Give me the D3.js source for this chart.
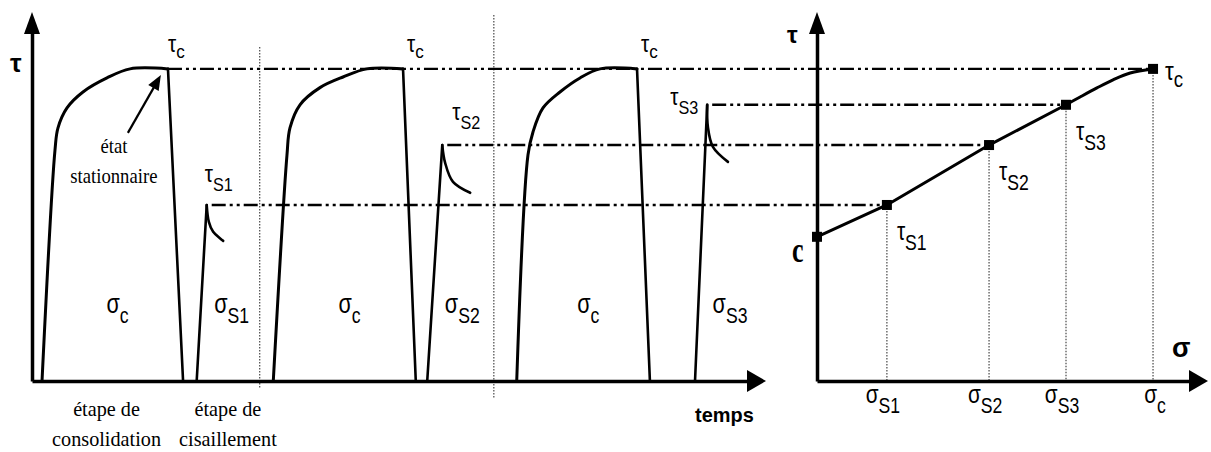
<!DOCTYPE html>
<html lang="fr">
<head>
<meta charset="UTF-8">
<title>Essai de cisaillement - consolidation / cisaillement</title>
<script src="https://cdn.jsdelivr.net/npm/d3@7"></script>
<style>
  body { margin: 0; background: #fff; }
</style>
</head>
<body>
<script>
// ---- data: time in arbitrary units, tau in % of tau_c, sigma in % of sigma_c
const tauC = 100;
const sigmaC = 100;
const cohesion = 46.2;
const tauS = [56.4, 75.6, 88.5];      // tau_S1 .. tau_S3
const sigmaS = [20.8, 51.2, 74.1];    // sigma_S1 .. sigma_S3
const stageSubs = ["S1", "S2", "S3"];

// consolidation stages: start of loading, then build-up and plateau, [t, tau]
const loadStart = [1.4, 33.7, 67.7];
const consolidationCurves = [
  [[3.21, 74.0], [3.63, 81.1], [4.89, 87.5], [7.12, 92.6], [10.47, 97.1], [13.69, 100], [18.99, 100]],
  [[35.61, 72.4], [36.03, 81.1], [37.43, 88.5], [40.22, 94.0], [43.44, 97.4], [46.79, 100], [51.82, 100]],
  [[69.27, 72.4], [69.97, 79.8], [71.37, 87.5], [73.74, 92.6], [76.54, 97.1], [79.33, 100], [84.50, 100]]
];
const unloadEnd = [21.1, 53.6, 86.3];

// shear stages
const shearStart = [23.0, 55.2, 92.6];
const shearPeakTime = [24.4, 57.3, 94.3];
const shearDecay = [
  [[24.7, 51.0], [25.3, 47.8], [26.7, 44.9]],
  [[57.7, 69.9], [58.8, 63.8], [61.2, 60.3]],
  [[94.4, 81.4], [95.1, 75.0], [97.2, 70.2]]
];
const stageDividers = [31.8, 64.5];

// envelope bend between tau_S3 and tau_c, [sigma, tau]
const envelopeBend = [[78.3, 91.0], [83.3, 93.9], [88.1, 96.5], [93.2, 98.7]];

const width = 1211, height = 452;
const SANS = "'Liberation Sans', Arial, Helvetica, sans-serif";
const SERIF = "'Liberation Serif', 'Times New Roman', Times, serif";

const svg = d3.select("body").append("svg")
  .attr("width", width)
  .attr("height", height);

const xTime = d3.scaleLinear().domain([0, 100]).range([32, 748]);
const xSigma = d3.scaleLinear().domain([0, 111]).range([817, 1190]);
const yTau = d3.scaleLinear().domain([0, 111.5]).range([381, 33]);

const dashDot = "14,4,3,4,3,4";
const dotted = "1.5,1.5";

// dotted stage dividers
const dividerTop = [47, 15];
svg.append("g").selectAll("line")
  .data(stageDividers)
  .join("line")
  .attr("x1", d => xTime(d)).attr("x2", d => xTime(d))
  .attr("y1", (d, i) => dividerTop[i])
  .attr("y2", (d, i) => yTau(0) + (i ? 17 : 7))
  .attr("stroke", "#555").attr("stroke-width", 1.3)
  .attr("stroke-dasharray", dotted);

// dotted verticals in right panel
const rightPoints = sigmaS.map((s, i) => [s, tauS[i]]).concat([[sigmaC, tauC]]);
svg.append("g").selectAll("line")
  .data(rightPoints)
  .join("line")
  .attr("x1", d => xSigma(d[0])).attr("x2", d => xSigma(d[0]))
  .attr("y1", d => yTau(d[1])).attr("y2", yTau(0))
  .attr("stroke", "#555").attr("stroke-width", 1.3)
  .attr("stroke-dasharray", dotted);

// dash-dot projection lines
const firstPlateau = consolidationCurves[0];
const projections = [{from: xTime(firstPlateau[firstPlateau.length - 1][0]), to: xSigma(sigmaC), tau: tauC}]
  .concat(tauS.map((t, i) => ({from: xTime(shearPeakTime[i]) + 5, to: xSigma(sigmaS[i]), tau: t})));
svg.append("g").selectAll("line")
  .data(projections)
  .join("line")
  .attr("x1", d => d.from).attr("x2", d => d.to)
  .attr("y1", d => yTau(d.tau)).attr("y2", d => yTau(d.tau))
  .attr("stroke", "#000").attr("stroke-width", 2.4)
  .attr("stroke-dasharray", dashDot);

// axes (no ticks)
function styleAxis(g) {
  g.select(".domain").attr("stroke-width", 3.5);
}
svg.append("g").attr("transform", `translate(0,${yTau(0)})`)
  .call(d3.axisBottom(xTime).tickValues([]).tickSizeOuter(0)).call(styleAxis);
svg.append("g").attr("transform", `translate(${xTime(0)},0)`)
  .call(d3.axisLeft(yTau).tickValues([]).tickSizeOuter(0)).call(styleAxis);
svg.append("g").attr("transform", `translate(0,${yTau(0)})`)
  .call(d3.axisBottom(xSigma).tickValues([]).tickSizeOuter(0)).call(styleAxis);
svg.append("g").attr("transform", `translate(${xSigma(0)},0)`)
  .call(d3.axisLeft(yTau).tickValues([]).tickSizeOuter(0)).call(styleAxis);

function arrowUp(x, y) { return `M${x - 8},${y}L${x},${y - 22}L${x + 8},${y}Z`; }
function arrowRight(x, y) { return `M${x},${y - 11}L${x + 19},${y}L${x},${y + 11}Z`; }
const yTop = yTau(yTau.domain()[1]);
svg.append("path").attr("d", arrowUp(xTime(0), yTop + 1));
svg.append("path").attr("d", arrowUp(xSigma(0), yTop + 1));
svg.append("path").attr("d", arrowRight(xTime(100) - 1, yTau(0)));
svg.append("path").attr("d", arrowRight(xSigma(111) - 1, yTau(0)));

// left panel curves
const smooth = d3.curveCatmullRom.alpha(0.5);
const lineT = d3.line().x(d => xTime(d[0])).y(d => yTau(d[1]));
const curves = svg.append("g").attr("fill", "none").attr("stroke", "#000")
  .attr("stroke-linejoin", "round").attr("stroke-linecap", "round");

consolidationCurves.forEach((pts, i) => {
  curves.append("path").attr("stroke-width", 3)
    .attr("d", lineT.curve(smooth)([[loadStart[i], 0]].concat(pts)));
  curves.append("path").attr("stroke-width", 2.6)
    .attr("d", lineT.curve(d3.curveLinear)([pts[pts.length - 1], [unloadEnd[i], 0]]));
});

shearStart.forEach((s, i) => {
  curves.append("path").attr("stroke-width", 2.6)
    .attr("d", lineT.curve(d3.curveLinear)([[s, 0], [shearPeakTime[i], tauS[i]]]));
  curves.append("path").attr("stroke-width", 2.6)
    .attr("d", lineT.curve(smooth)([[shearPeakTime[i], tauS[i]]].concat(shearDecay[i])));
});

// right panel envelope
const lineS = d3.line().x(d => xSigma(d[0])).y(d => yTau(d[1]));
curves.append("path").attr("stroke-width", 3)
  .attr("d", lineS([[0, cohesion]].concat(sigmaS.map((s, i) => [s, tauS[i]]))));
curves.append("path").attr("stroke-width", 3)
  .attr("d", lineS.curve(smooth)([[sigmaS[2], tauS[2]]].concat(envelopeBend, [[sigmaC, tauC]])));

svg.append("g").selectAll("rect")
  .data([[0, cohesion]].concat(rightPoints))
  .join("rect")
  .attr("x", d => xSigma(d[0]) - 5).attr("y", d => yTau(d[1]) - 5)
  .attr("width", 10).attr("height", 10).attr("fill", "#000");

// labels
function label(x, y, main, sub, o) {
  const t = svg.append("text")
    .attr("transform", `translate(${x},${y}) scale(${o.sx ?? 0.85},1)`)
    .attr("text-anchor", o.anchor || "start")
    .attr("font-family", o.family || SANS)
    .attr("font-size", o.size)
    .attr("font-weight", o.bold ? "bold" : null)
    .attr("fill", "#000");
  t.append("tspan").text(main);
  if (sub) t.append("tspan").attr("dy", o.dy).attr("font-size", o.subSize).text(sub);
  return t;
}

label(10, 72, "τ", null, {size: 26, bold: true, sx: 1});
label(xSigma(0) - 30, 43, "τ", null, {size: 24, bold: true, sx: 1});
label(xSigma(111) - 18, yTau(0) - 24, "σ", null, {size: 27, bold: true, sx: 1});
label(xTime(100) - 53, yTau(0) + 41, "temps", null, {size: 21, bold: true, sx: 0.95});

consolidationCurves.forEach((pts, i) => {
  label(xTime(pts[pts.length - 1][0]) + (i ? 4 : 0), yTau(tauC) - 17, "τ", "c",
    {size: 23, subSize: 19, dy: 6, sx: 0.9});
  label((xTime(loadStart[i]) + xTime(unloadEnd[i])) / 2 + 5, 313, "σ", "c",
    {size: 27, subSize: 22, dy: 10, sx: 0.8, anchor: "middle"});
});

const tauSOffsets = [[-2, -23, "start"], [10, -25, "start"], [-9, 0, "end"]];
stageSubs.forEach((sub, i) => {
  const o = tauSOffsets[i];
  label(xTime(shearPeakTime[i]) + o[0], yTau(tauS[i]) + o[1], "τ", sub,
    {size: 23, subSize: 18, dy: 9, sx: 0.9, anchor: o[2]});
  label(xTime(shearStart[i]) + 35, 313, "σ", sub,
    {size: 27, subSize: 22, dy: 10, sx: 0.8, anchor: "middle"});
  // right panel
  label(xSigma(sigmaS[i]) + 10, yTau(tauS[i]) + 35, "τ", sub,
    {size: 26, subSize: 22, dy: 10, sx: 0.8});
  label(xSigma(sigmaS[i]) - 4, 403, "σ", sub,
    {size: 26, subSize: 22, dy: 10, sx: 0.8, anchor: "middle"});
});
label(xSigma(sigmaC) + 12, yTau(tauC) + 11, "τ", "c", {size: 26, subSize: 22, dy: 7, sx: 0.85});
label(xSigma(sigmaC) + 2, 403, "σ", "c", {size: 26, subSize: 22, dy: 10, sx: 0.8, anchor: "middle"});
label(xSigma(0) - 25, yTau(cohesion) + 25, "c", null,
  {size: 36, sx: 0.72, bold: true, family: SERIF});

// annotation "état stationnaire"
const tip = [xTime(18.0), yTau(tauC) + 6];
const tail = [tip[0] - 33, tip[1] + 58];
svg.append("line")
  .attr("x1", tail[0]).attr("y1", tail[1])
  .attr("x2", tip[0] - 5).attr("y2", tip[1] + 9)
  .attr("stroke", "#000").attr("stroke-width", 2.2);
const ang = Math.atan2(tip[1] - tail[1], tip[0] - tail[0]);
const ah = 15, aw = 6;
const bx = tip[0] - ah * Math.cos(ang), by = tip[1] - ah * Math.sin(ang);
svg.append("path")
  .attr("d", `M${tip[0]},${tip[1]}L${bx + aw * Math.sin(ang)},${by - aw * Math.cos(ang)}L${bx - aw * Math.sin(ang)},${by + aw * Math.cos(ang)}Z`);

function serifLines(cx, y0, lines, size, sx) {
  lines.forEach((s, i) => {
    svg.append("text")
      .attr("transform", `translate(${cx},${y0 + i * 30}) scale(${sx},1)`)
      .attr("text-anchor", "middle")
      .attr("font-family", SERIF)
      .attr("font-size", size)
      .attr("fill", "#000")
      .text(s);
  });
}
serifLines(tail[0] - 14, tail[1] + 20, ["état", "stationnaire"], 21, 0.89);
serifLines((xTime(loadStart[0]) + xTime(unloadEnd[0])) / 2 - 6, yTau(0) + 35,
  ["étape de", "consolidation"], 22, 0.92);
serifLines((xTime(shearStart[0]) + xTime(shearDecay[0][2][0])) / 2 + 18, yTau(0) + 35,
  ["étape de", "cisaillement"], 22, 0.92);
</script>
</body>
</html>
